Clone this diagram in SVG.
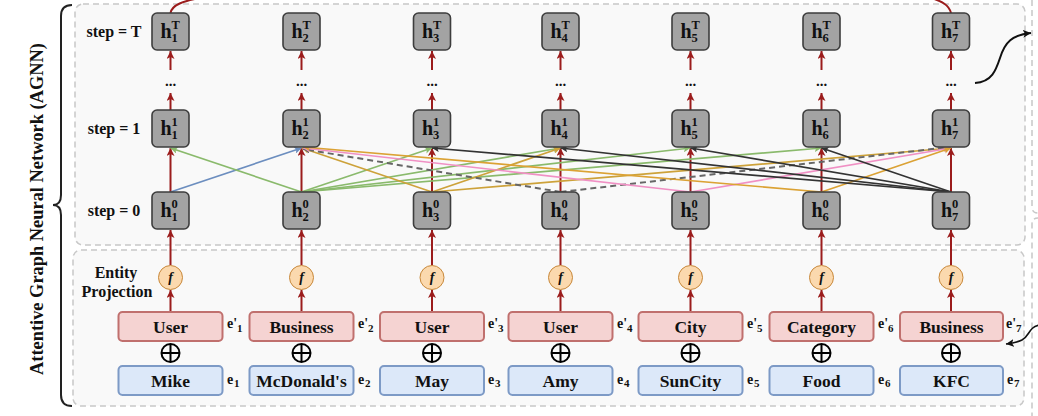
<svg xmlns="http://www.w3.org/2000/svg" width="1038" height="416" viewBox="0 0 1038 416">
<style>
.panel{fill:#f9f9f9;stroke:#c8c8c8;stroke-width:1.5;stroke-dasharray:6 4}
.hn{fill:#a3a3a3;stroke:#3d3d3d;stroke-width:1.6}
.t{font-family:"Liberation Serif","Times New Roman",serif;font-weight:bold;fill:#111}
.h{font-size:20px}
.ss{font-size:12.5px}
.dots{font-size:15px;text-anchor:middle}
.lab{font-size:16px;text-anchor:middle}
.fc{fill:#fbd9ae;stroke:#c8883a;stroke-width:1}
.ft{font-size:14px;font-style:italic;text-anchor:middle}
.pb{fill:#f5d3d2;stroke:#c0706e;stroke-width:2}
.bb{fill:#dce8f9;stroke:#7d9ac6;stroke-width:2}
.bt{font-size:17.5px;text-anchor:middle}
.el{font-size:14px}
.el2{font-size:11px}
.ox{fill:none;stroke:#000;stroke-width:2}
.red{stroke:#9b1c1c;stroke-width:2;fill:none;marker-end:url(#mr)}
.e{fill:none;stroke-width:1.7}
.blue{stroke:#6c8ebf;marker-end:url(#mb)}
.green{stroke:#8aba6c;marker-end:url(#mg)}
.gold{stroke:#cda23a;marker-end:url(#my)}
.orange{stroke:#dba234;marker-end:url(#mo)}
.pink{stroke:#f090c4;marker-end:url(#mp)}
.dash{stroke:#666;stroke-width:2;stroke-dasharray:6 4;marker-end:url(#md)}
.blk{stroke:#333;marker-end:url(#mk)}
</style>
<defs>
<marker id="mr" markerUnits="userSpaceOnUse" markerWidth="9" markerHeight="8" refX="8" refY="4" orient="auto"><path d="M0,0 L8,4 L0,8 L2,4 Z" fill="#9b1c1c"/></marker>
<marker id="mb" markerUnits="userSpaceOnUse" markerWidth="8" markerHeight="7" refX="7" refY="3.5" orient="auto"><path d="M0,0 L7,3.5 L0,7 L1.5,3.5 Z" fill="#6c8ebf"/></marker>
<marker id="mg" markerUnits="userSpaceOnUse" markerWidth="8" markerHeight="7" refX="7" refY="3.5" orient="auto"><path d="M0,0 L7,3.5 L0,7 L1.5,3.5 Z" fill="#8aba6c"/></marker>
<marker id="my" markerUnits="userSpaceOnUse" markerWidth="8" markerHeight="7" refX="7" refY="3.5" orient="auto"><path d="M0,0 L7,3.5 L0,7 L1.5,3.5 Z" fill="#cda23a"/></marker>
<marker id="mo" markerUnits="userSpaceOnUse" markerWidth="8" markerHeight="7" refX="7" refY="3.5" orient="auto"><path d="M0,0 L7,3.5 L0,7 L1.5,3.5 Z" fill="#dba234"/></marker>
<marker id="mp" markerUnits="userSpaceOnUse" markerWidth="8" markerHeight="7" refX="7" refY="3.5" orient="auto"><path d="M0,0 L7,3.5 L0,7 L1.5,3.5 Z" fill="#f090c4"/></marker>
<marker id="md" markerUnits="userSpaceOnUse" markerWidth="8" markerHeight="7" refX="7" refY="3.5" orient="auto"><path d="M0,0 L7,3.5 L0,7 L1.5,3.5 Z" fill="#666"/></marker>
<marker id="mk" markerUnits="userSpaceOnUse" markerWidth="8" markerHeight="7" refX="7" refY="3.5" orient="auto"><path d="M0,0 L7,3.5 L0,7 L1.5,3.5 Z" fill="#333"/></marker>
<marker id="mblack" markerUnits="userSpaceOnUse" markerWidth="9" markerHeight="8" refX="8" refY="4" orient="auto"><path d="M0,0 L8,4 L0,8 L2,4 Z" fill="#111"/></marker>
</defs>

<g id="panels">
<rect class="panel" x="75" y="4" width="950" height="241" rx="8"/>
<rect class="panel" x="73" y="250" width="951" height="156" rx="8"/>
<path class="panel" style="fill:none" d="M1032,0 V207 Q1032,213 1038,213"/>
<path class="panel" style="fill:none" d="M1040,218 H1038 Q1032,218 1032,224 V416"/>
</g>

<g id="agnn-label">
<path d="M72,5 Q61,5 61,16 V195 Q61,205 53,205 Q61,205 61,215 V395 Q61,406 72,406" fill="none" stroke="#222" stroke-width="2"/>
<text class="t" transform="translate(43,209) rotate(-90)" style="font-size:18.4px;text-anchor:middle">Attentive Graph Neural Network (AGNN)</text>
</g>

<g id="row-labels">
<text class="t lab" x="114" y="37">step = T</text>
<text class="t lab" x="114" y="134">step = 1</text>
<text class="t lab" x="114" y="216">step = 0</text>
<text class="t lab" x="116" y="278">Entity</text>
<text class="t lab" x="117" y="297">Projection</text>
</g>

<g id="connectors">
<path d="M170.5,13 C172,5 182,1 205,-3" fill="none" stroke="#9b1c1c" stroke-width="2"/>
<path d="M951,13 C949,5 942,1 928,-3" fill="none" stroke="#9b1c1c" stroke-width="2"/>
<path class="red" d="M170.5,70 V51"/><path class="red" d="M170.5,110 V93"/><path class="red" d="M170.5,192 V148"/><path class="red" d="M170.5,265 V230"/><path class="red" d="M170.5,312 V290"/>
<path class="red" d="M301.5,70 V51"/><path class="red" d="M301.5,110 V93"/><path class="red" d="M301.5,192 V148"/><path class="red" d="M301.5,265 V230"/><path class="red" d="M301.5,312 V290"/>
<path class="red" d="M432,70 V51"/><path class="red" d="M432,110 V93"/><path class="red" d="M432,192 V148"/><path class="red" d="M432,265 V230"/><path class="red" d="M432,312 V290"/>
<path class="red" d="M560.5,70 V51"/><path class="red" d="M560.5,110 V93"/><path class="red" d="M560.5,192 V148"/><path class="red" d="M560.5,265 V230"/><path class="red" d="M560.5,312 V290"/>
<path class="red" d="M690.5,70 V51"/><path class="red" d="M690.5,110 V93"/><path class="red" d="M690.5,192 V148"/><path class="red" d="M690.5,265 V230"/><path class="red" d="M690.5,312 V290"/>
<path class="red" d="M821.5,70 V51"/><path class="red" d="M821.5,110 V93"/><path class="red" d="M821.5,192 V148"/><path class="red" d="M821.5,265 V230"/><path class="red" d="M821.5,312 V290"/>
<path class="red" d="M951,70 V51"/><path class="red" d="M951,110 V93"/><path class="red" d="M951,192 V148"/><path class="red" d="M951,265 V230"/><path class="red" d="M951,312 V290"/>
<path class="e blue" d="M170.5,192 L301.5,148"/>
<path class="e green" d="M301.5,192 L170.5,148"/>
<path class="e green" d="M301.5,192 L432,148"/>
<path class="e green" d="M301.5,192 L560.5,148"/>
<path class="e green" d="M301.5,192 L690.5,148"/>
<path class="e green" d="M301.5,192 L821.5,148"/>
<path class="e gold" d="M432,192 L302,148"/>
<path class="e gold" d="M432,192 L560.5,148"/>
<path class="e gold" d="M432,192 L951,148"/>
<path class="e dash" d="M560.5,192 L303,149"/>
<path class="e dash" d="M560.5,192 L950,147"/>
<path class="e pink" d="M690.5,192 L303,148"/>
<path class="e pink" d="M690.5,192 L951,148"/>
<path class="e orange" d="M821.5,192 L303,147"/>
<path class="e orange" d="M821.5,192 L951,148"/>
<path class="e blk" d="M951,192 L432,148"/>
<path class="e blk" d="M951,192 L560.5,148"/>
<path class="e blk" d="M951,192 L690.5,148"/>
<path class="e blk" d="M951,192 L821.5,148"/>
<path d="M975,83 C992,82 996,70 1000,58 C1005,42 1012,35 1031,33" fill="none" stroke="#111" stroke-width="2" marker-end="url(#mblack)"/>
<path d="M1040,325 C1028,327 1030,336 1022,340 C1018,342 1014,343 1006,344" fill="none" stroke="#111" stroke-width="1.6" marker-end="url(#mblack)"/>
</g>

<g id="dots">
<text class="t dots" x="170.5" y="86">...</text><text class="t dots" x="301.5" y="86">...</text><text class="t dots" x="432" y="86">...</text><text class="t dots" x="560.5" y="86">...</text><text class="t dots" x="690.5" y="86">...</text><text class="t dots" x="821.5" y="86">...</text><text class="t dots" x="951" y="86">...</text>
</g>

<g id="h1T"><rect class="hn" x="152" y="13" width="37" height="37" rx="5"/><text class="t h" x="160.5" y="37.5">h</text><text class="t ss" x="171.5" y="28.5">T</text><text class="t ss" x="171.5" y="42">1</text></g>
<g id="h2T"><rect class="hn" x="283" y="13" width="37" height="37" rx="5"/><text class="t h" x="291.5" y="37.5">h</text><text class="t ss" x="302.5" y="28.5">T</text><text class="t ss" x="302.5" y="42">2</text></g>
<g id="h3T"><rect class="hn" x="413.5" y="13" width="37" height="37" rx="5"/><text class="t h" x="422" y="37.5">h</text><text class="t ss" x="433" y="28.5">T</text><text class="t ss" x="433" y="42">3</text></g>
<g id="h4T"><rect class="hn" x="542" y="13" width="37" height="37" rx="5"/><text class="t h" x="550.5" y="37.5">h</text><text class="t ss" x="561.5" y="28.5">T</text><text class="t ss" x="561.5" y="42">4</text></g>
<g id="h5T"><rect class="hn" x="672" y="13" width="37" height="37" rx="5"/><text class="t h" x="680.5" y="37.5">h</text><text class="t ss" x="691.5" y="28.5">T</text><text class="t ss" x="691.5" y="42">5</text></g>
<g id="h6T"><rect class="hn" x="803" y="13" width="37" height="37" rx="5"/><text class="t h" x="811.5" y="37.5">h</text><text class="t ss" x="822.5" y="28.5">T</text><text class="t ss" x="822.5" y="42">6</text></g>
<g id="h7T"><rect class="hn" x="932.5" y="13" width="37" height="37" rx="5"/><text class="t h" x="941" y="37.5">h</text><text class="t ss" x="952" y="28.5">T</text><text class="t ss" x="952" y="42">7</text></g>

<g id="h1_1"><rect class="hn" x="152" y="110" width="37" height="37" rx="5"/><text class="t h" x="160.5" y="134.5">h</text><text class="t ss" x="171.5" y="125.5">1</text><text class="t ss" x="171.5" y="139">1</text></g>
<g id="h2_1"><rect class="hn" x="283" y="110" width="37" height="37" rx="5"/><text class="t h" x="291.5" y="134.5">h</text><text class="t ss" x="302.5" y="125.5">1</text><text class="t ss" x="302.5" y="139">2</text></g>
<g id="h3_1"><rect class="hn" x="413.5" y="110" width="37" height="37" rx="5"/><text class="t h" x="422" y="134.5">h</text><text class="t ss" x="433" y="125.5">1</text><text class="t ss" x="433" y="139">3</text></g>
<g id="h4_1"><rect class="hn" x="542" y="110" width="37" height="37" rx="5"/><text class="t h" x="550.5" y="134.5">h</text><text class="t ss" x="561.5" y="125.5">1</text><text class="t ss" x="561.5" y="139">4</text></g>
<g id="h5_1"><rect class="hn" x="672" y="110" width="37" height="37" rx="5"/><text class="t h" x="680.5" y="134.5">h</text><text class="t ss" x="691.5" y="125.5">1</text><text class="t ss" x="691.5" y="139">5</text></g>
<g id="h6_1"><rect class="hn" x="803" y="110" width="37" height="37" rx="5"/><text class="t h" x="811.5" y="134.5">h</text><text class="t ss" x="822.5" y="125.5">1</text><text class="t ss" x="822.5" y="139">6</text></g>
<g id="h7_1"><rect class="hn" x="932.5" y="110" width="37" height="37" rx="5"/><text class="t h" x="941" y="134.5">h</text><text class="t ss" x="952" y="125.5">1</text><text class="t ss" x="952" y="139">7</text></g>

<g id="h1_0"><rect class="hn" x="152" y="192" width="37" height="37" rx="5"/><text class="t h" x="160.5" y="216.5">h</text><text class="t ss" x="171.5" y="207.5">0</text><text class="t ss" x="171.5" y="221">1</text></g>
<g id="h2_0"><rect class="hn" x="283" y="192" width="37" height="37" rx="5"/><text class="t h" x="291.5" y="216.5">h</text><text class="t ss" x="302.5" y="207.5">0</text><text class="t ss" x="302.5" y="221">2</text></g>
<g id="h3_0"><rect class="hn" x="413.5" y="192" width="37" height="37" rx="5"/><text class="t h" x="422" y="216.5">h</text><text class="t ss" x="433" y="207.5">0</text><text class="t ss" x="433" y="221">3</text></g>
<g id="h4_0"><rect class="hn" x="542" y="192" width="37" height="37" rx="5"/><text class="t h" x="550.5" y="216.5">h</text><text class="t ss" x="561.5" y="207.5">0</text><text class="t ss" x="561.5" y="221">4</text></g>
<g id="h5_0"><rect class="hn" x="672" y="192" width="37" height="37" rx="5"/><text class="t h" x="680.5" y="216.5">h</text><text class="t ss" x="691.5" y="207.5">0</text><text class="t ss" x="691.5" y="221">5</text></g>
<g id="h6_0"><rect class="hn" x="803" y="192" width="37" height="37" rx="5"/><text class="t h" x="811.5" y="216.5">h</text><text class="t ss" x="822.5" y="207.5">0</text><text class="t ss" x="822.5" y="221">6</text></g>
<g id="h7_0"><rect class="hn" x="932.5" y="192" width="37" height="37" rx="5"/><text class="t h" x="941" y="216.5">h</text><text class="t ss" x="952" y="207.5">0</text><text class="t ss" x="952" y="221">7</text></g>

<g id="f1"><circle class="fc" cx="170.5" cy="277.5" r="12"/><text class="t ft" x="170.5" y="282">f</text></g>
<g id="f2"><circle class="fc" cx="301.5" cy="277.5" r="12"/><text class="t ft" x="301.5" y="282">f</text></g>
<g id="f3"><circle class="fc" cx="432" cy="277.5" r="12"/><text class="t ft" x="432" y="282">f</text></g>
<g id="f4"><circle class="fc" cx="560.5" cy="277.5" r="12"/><text class="t ft" x="560.5" y="282">f</text></g>
<g id="f5"><circle class="fc" cx="690.5" cy="277.5" r="12"/><text class="t ft" x="690.5" y="282">f</text></g>
<g id="f6"><circle class="fc" cx="821.5" cy="277.5" r="12"/><text class="t ft" x="821.5" y="282">f</text></g>
<g id="f7"><circle class="fc" cx="951" cy="277.5" r="12"/><text class="t ft" x="951" y="282">f</text></g>

<g id="type1"><rect class="pb" x="118.5" y="312" width="104" height="29" rx="4"/><text class="t bt" x="170.5" y="333">User</text><text class="t el" x="227" y="328">e'</text><text class="t el2" x="237" y="332">1</text></g>
<g id="type2"><rect class="pb" x="249.5" y="312" width="104" height="29" rx="4"/><text class="t bt" x="301.5" y="333">Business</text><text class="t el" x="358" y="328">e'</text><text class="t el2" x="368" y="332">2</text></g>
<g id="type3"><rect class="pb" x="380" y="312" width="104" height="29" rx="4"/><text class="t bt" x="432" y="333">User</text><text class="t el" x="488" y="328">e'</text><text class="t el2" x="498" y="332">3</text></g>
<g id="type4"><rect class="pb" x="508.5" y="312" width="104" height="29" rx="4"/><text class="t bt" x="560.5" y="333">User</text><text class="t el" x="617" y="328">e'</text><text class="t el2" x="627" y="332">4</text></g>
<g id="type5"><rect class="pb" x="638.5" y="312" width="104" height="29" rx="4"/><text class="t bt" x="690.5" y="333">City</text><text class="t el" x="747" y="328">e'</text><text class="t el2" x="757" y="332">5</text></g>
<g id="type6"><rect class="pb" x="769.5" y="312" width="104" height="29" rx="4"/><text class="t bt" x="821.5" y="333">Category</text><text class="t el" x="878" y="328">e'</text><text class="t el2" x="888" y="332">6</text></g>
<g id="type7"><rect class="pb" x="900" y="312" width="103" height="29" rx="4"/><text class="t bt" x="951.5" y="333">Business</text><text class="t el" x="1006" y="328">e'</text><text class="t el2" x="1016" y="332">7</text></g>

<g id="plus">
<g><circle class="ox" cx="170.5" cy="353" r="9"/><path class="ox" d="M161.5,353 H179.5 M170.5,344 V362"/></g>
<g><circle class="ox" cx="301.5" cy="353" r="9"/><path class="ox" d="M292.5,353 H310.5 M301.5,344 V362"/></g>
<g><circle class="ox" cx="432" cy="353" r="9"/><path class="ox" d="M423,353 H441 M432,344 V362"/></g>
<g><circle class="ox" cx="560.5" cy="353" r="9"/><path class="ox" d="M551.5,353 H569.5 M560.5,344 V362"/></g>
<g><circle class="ox" cx="690.5" cy="353" r="9"/><path class="ox" d="M681.5,353 H699.5 M690.5,344 V362"/></g>
<g><circle class="ox" cx="821.5" cy="353" r="9"/><path class="ox" d="M812.5,353 H830.5 M821.5,344 V362"/></g>
<g><circle class="ox" cx="951" cy="353" r="9"/><path class="ox" d="M942,353 H960 M951,344 V362"/></g>
</g>

<g id="ent1"><rect class="bb" x="118.5" y="366" width="104" height="29" rx="4"/><text class="t bt" x="170.5" y="387">Mike</text><text class="t el" x="227" y="384">e</text><text class="t el2" x="234" y="387">1</text></g>
<g id="ent2"><rect class="bb" x="249.5" y="366" width="104" height="29" rx="4"/><text class="t bt" x="301.5" y="387">McDonald's</text><text class="t el" x="358" y="384">e</text><text class="t el2" x="365" y="387">2</text></g>
<g id="ent3"><rect class="bb" x="380" y="366" width="104" height="29" rx="4"/><text class="t bt" x="432" y="387">May</text><text class="t el" x="488" y="384">e</text><text class="t el2" x="495" y="387">3</text></g>
<g id="ent4"><rect class="bb" x="508.5" y="366" width="104" height="29" rx="4"/><text class="t bt" x="560.5" y="387">Amy</text><text class="t el" x="617" y="384">e</text><text class="t el2" x="624" y="387">4</text></g>
<g id="ent5"><rect class="bb" x="638.5" y="366" width="104" height="29" rx="4"/><text class="t bt" x="690.5" y="387">SunCity</text><text class="t el" x="747" y="384">e</text><text class="t el2" x="754" y="387">5</text></g>
<g id="ent6"><rect class="bb" x="769.5" y="366" width="104" height="29" rx="4"/><text class="t bt" x="821.5" y="387">Food</text><text class="t el" x="878" y="384">e</text><text class="t el2" x="885" y="387">6</text></g>
<g id="ent7"><rect class="bb" x="900" y="366" width="103" height="29" rx="4"/><text class="t bt" x="951.5" y="387">KFC</text><text class="t el" x="1007" y="384">e</text><text class="t el2" x="1014" y="387">7</text></g>
</svg>
